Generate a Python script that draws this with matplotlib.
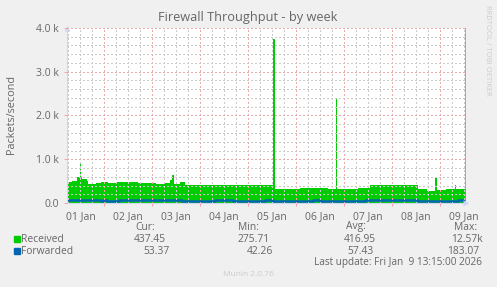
import matplotlib
matplotlib.use("Agg")
import matplotlib.pyplot as plt
from matplotlib.patches import Rectangle

# hours since 01 Jan 00:00, step data
recv_t = [5.25, 8, 10.5, 12, 12.5, 13, 15.5, 16, 20, 22.5, 26, 30, 33, 37.5,
          41, 45.5, 50, 54.5, 57, 58, 59, 62, 64.5, 72, 81, 85.5, 93, 94,
          103, 104, 108.5, 109.5, 116, 122, 128.5, 132, 136, 140, 140.75,
          146, 151, 157, 164, 172, 181, 185.5, 189.75, 190.5, 195, 198.5,
          199.5, 200]
recv_v = [490, 500, 600, 900, 600, 550, 500, 430, 450, 470, 460, 480, 470, 470,
          460, 450, 440, 460, 520, 640, 440, 470, 400, 410, 420, 400, 420, 400,
          420, 410, 3750, 310, 330, 340, 350, 340, 310, 2400, 320,
          330, 340, 410, 420, 400, 320, 280, 570, 300, 310, 330,
          400, 330]

fwd_t = [5.25, 22.5, 23.5, 25.5, 31.5, 35, 54.5, 57, 58.5, 63, 79.5, 88.5,
         104.5, 108.5, 128.5, 132, 154.5, 159.5, 177, 178, 181, 201, 203.5]
fwd_v = [60, 45, 60, 45, 75, 60, 65, 80, 65, 45, 65, 45,
         65, 45, 70, 50, 65, 60, 70, 60, 45, 70, 50]

t_end = 205.25
day_labels = ["01 Jan", "02 Jan", "03 Jan", "04 Jan", "05 Jan",
              "06 Jan", "07 Jan", "08 Jan", "09 Jan"]
y_labels = ["0.0", "1.0 k", "2.0 k", "3.0 k", "4.0 k"]

legend_names = ["Received", "Forwarded"]
legend_colors = ["#00CC00", "#0066B3"]
cur = ["437.45", "53.37"]
mn = ["275.71", "42.26"]
avg = ["416.95", "57.43"]
mx = ["12.57k", "183.07"]

plt.rcParams['font.family'] = ['Open Sans', 'DejaVu Sans']
txt = '#666666'
red = '#EAA8A8'
gray = '#CACACA'

W, H = 497, 287
fig = plt.figure(figsize=(W / 100, H / 100), dpi=100, facecolor='#F0F0F0')
ax = fig.add_axes([67 / W, 1 - 203 / H, 399 / W, 175 / H], facecolor='white')

ax.fill_between(recv_t + [t_end], recv_v + [recv_v[-1]], step='post',
                color=legend_colors[0], lw=0)
ax.step(fwd_t + [t_end], fwd_v + [fwd_v[-1]], where='post',
        color=legend_colors[1], lw=1.8)
ax.axvline(t_end, color='#999999', lw=1.2)

ax.set_xlim(5.25, t_end)
ax.set_ylim(0, 4000)

midnights = [24 * d for d in range(1, 9)]
six = [h for h in range(6, 206, 6) if h % 24 and h > 5.25]
ax.set_xticks(midnights, [''] * len(midnights))
ax.set_xticks(six, [day_labels[(h - 12) // 24] if h % 24 == 12 else '' for h in six],
              minor=True)
ax.set_yticks(range(0, 4001, 1000), y_labels)
ax.set_yticks([v for v in range(200, 4000, 200) if v % 1000], minor=True)

ax.grid(which='major', color=red, lw=1, ls=(0, (1, 1.6)), antialiased=False)
ax.grid(which='minor', color=gray, lw=1, ls=(0, (1, 1.6)), antialiased=False)
ax.set_axisbelow(False)

ax.tick_params(which='both', length=2, width=0.7, labelsize=7.5, labelcolor=txt,
               pad=4)
ax.tick_params(axis='x', which='major', color=red)
ax.tick_params(axis='x', which='minor', color=gray, length=0, pad=6)
ax.tick_params(axis='y', which='major', color=red)
ax.tick_params(axis='y', which='minor', length=0)

for s in ['top', 'right']:
    ax.spines[s].set_visible(False)
for s in ['left', 'bottom']:
    ax.spines[s].set_color('#CFD6F8')
ax.plot([0], [1.0], marker='^', ms=5, color='#CFD6F8', transform=ax.transAxes,
        clip_on=False, mec='none')
ax.plot([1.0], [0], marker='>', ms=5, color='#CFD6F8', transform=ax.transAxes,
        clip_on=False, mec='none')


def fx(x):
    return x / W


def fy(y):
    return 1 - y / H


fig.text(fx(248), fy(18), "Firewall Throughput - by week", ha='center', va='center',
         fontsize=9.2, color=txt)
fig.text(fx(12), fy(115), "Packets/second", rotation=90, ha='center', va='center',
         fontsize=7.8, color=txt)
fig.text(fx(487), fy(5), "RRDTOOL / TOBI OETIKER", rotation=270, ha='center', va='top',
         fontsize=5.5, color='#CCCCCC')

for lab, r in zip(["Cur:", "Min:", "Avg:", "Max:"], [155, 259, 366, 477]):
    fig.text(fx(r), fy(227), lab, ha='right', va='center', fontsize=7.4, color=txt)

rights = [[166, 270, 376, 483], [170, 273, 374, 479]]
for i in range(2):
    y = 239 + 12 * i
    fig.patches.append(Rectangle((fx(14), fy(y + 3)), 6 / W, 6 / H,
                                 transform=fig.transFigure, color=legend_colors[i]))
    fig.text(fx(21), fy(y), legend_names[i], ha='left', va='center', fontsize=7.4,
             color=txt)
    for val, r in zip([cur[i], mn[i], avg[i], mx[i]], rights[i]):
        fig.text(fx(r), fy(y), val, ha='right', va='center', fontsize=7.4, color=txt)

fig.text(fx(482), fy(263), "Last update: Fri Jan  9 13:15:00 2026", ha='right',
         va='center', fontsize=7.2, color=txt)
fig.text(fx(248), fy(274), "Munin 2.0.76", ha='center', va='center', fontsize=6,
         color='#CCCCCC')

fig.savefig("out.png", dpi=100, facecolor=fig.get_facecolor())
